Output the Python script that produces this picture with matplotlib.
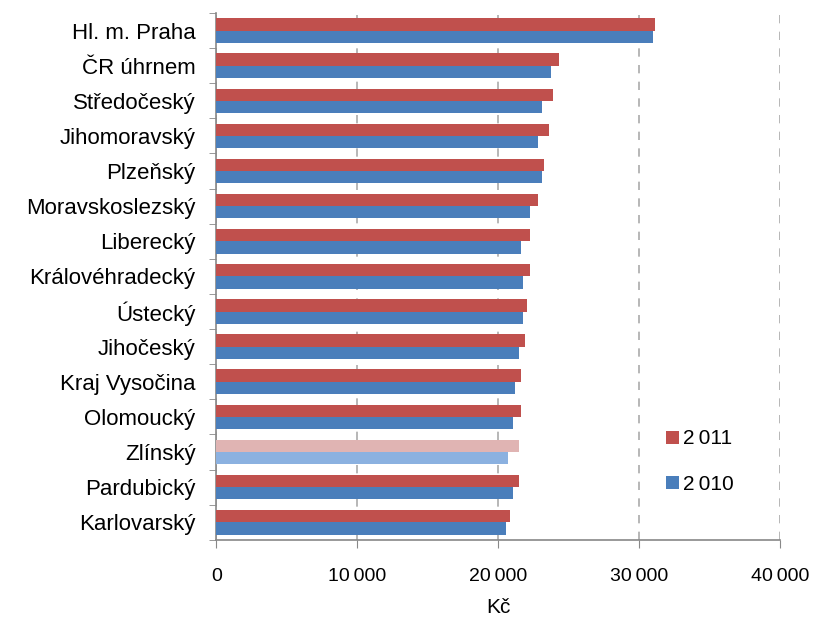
import numpy as np
import matplotlib.pyplot as plt
from matplotlib.ticker import FuncFormatter

plt.rcParams['font.family'] = ['Liberation Sans', 'DejaVu Sans']

regions = ['Hl. m. Praha', 'ČR úhrnem', 'Středočeský', 'Jihomoravský', 'Plzeňský',
           'Moravskoslezský', 'Liberecký', 'Královéhradecký', 'Ústecký', 'Jihočeský',
           'Kraj Vysočina', 'Olomoucký', 'Zlínský', 'Pardubický', 'Karlovarský']
wage_2011 = [31140, 24340, 23890, 23580, 23270, 22820, 22230, 22230, 22060, 21890,
             21610, 21610, 21470, 21470, 20850]
wage_2010 = [31000, 23740, 23130, 22820, 23130, 22230, 21610, 21780, 21780, 21470,
             21160, 21020, 20710, 21020, 20540]
highlight = 'Zlínský'

red, blue = '#C0504D', '#4A7EBB'
red_hl, blue_hl = '#E0B4B3', '#8BB1E0'

fig = plt.figure(figsize=(8.16, 6.19), dpi=100)
ax = fig.add_axes([0.265, 0.128, 0.691, 0.851])

y = np.arange(len(regions))
h = 0.35
c11 = [red_hl if r == highlight else red for r in regions]
c10 = [blue_hl if r == highlight else blue for r in regions]
ax.barh(y - h / 2, wage_2011, height=h, color=c11, label='2\u2009011', zorder=3)
ax.barh(y + h / 2, wage_2010, height=h, color=c10, label='2\u2009010', zorder=3)

ax.set_ylim(len(regions) - 0.5, -0.5)
ax.set_xlim(0, 40000)
ax.set_yticks(y)
ax.set_yticklabels(regions, fontsize=16)
ax.set_yticks(np.arange(len(regions) + 1) - 0.5, minor=True)
ax.tick_params(axis='y', which='major', length=0, pad=15)
ax.tick_params(axis='y', which='minor', length=5, color='#888888', direction='out')

ax.set_xticks([0, 10000, 20000, 30000, 40000])
ax.xaxis.set_major_formatter(FuncFormatter(lambda v, p: '{:,.0f}'.format(v).replace(',', '\u2009')))
ax.tick_params(axis='x', length=6, color='#888888', labelsize=14, pad=14)
ax.set_xlabel('Kč', fontsize=15, labelpad=10)

ax.grid(axis='x', color='#AAAAAA', linestyle=(0, (5, 5)), linewidth=1.2, zorder=0)
for s in ['top', 'right']:
    ax.spines[s].set_visible(False)
for s in ['left', 'bottom']:
    ax.spines[s].set_color('#888888')
    ax.spines[s].set_linewidth(1.2)

ax.legend(loc='upper left', bbox_to_anchor=(0.765, 0.245), frameon=False, fontsize=15,
          handlelength=0.6, handleheight=0.6, handletextpad=0.2, labelspacing=1.25)

fig.savefig('out.png')
